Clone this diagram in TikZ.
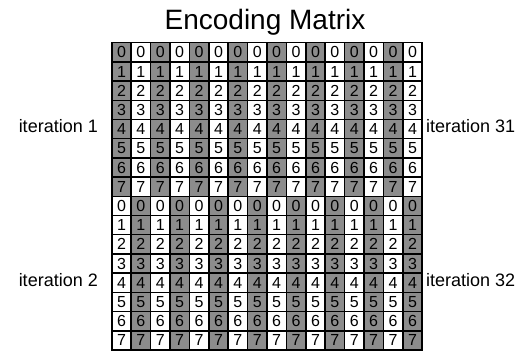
\documentclass[tikz,border=0pt]{standalone}
\usepackage{fontspec}
\setmainfont{Liberation Sans}
\usetikzlibrary{positioning}
\definecolor{cellgray}{RGB}{140,140,140}

\begin{document}
\begin{tikzpicture}[x=1pt,y=-1pt]\tikzstyle{every node}=[font=\fontsize{16}{18}\selectfont]
\tikzstyle{cell}=[draw, line width=1.5pt, minimum width=19.4pt, minimum height=19.2pt, inner sep=0pt, anchor=north west]
\tikzstyle{label}=[font=\fontsize{18}{20}\selectfont, inner sep=0pt]
\useasboundingbox (0,0) rectangle (532,352);
% title
\node[font=\fontsize{28}{30}\selectfont, anchor=base] (title) at (265,30) {Encoding Matrix};
% cells: top half shaded on even columns, bottom half on odd ones
\foreach \r in {0,...,15}{
  \foreach \c in {0,...,15}{
    \pgfmathtruncatemacro{\digit}{mod(\r,8)}
    \pgfmathtruncatemacro{\shade}{mod(\c+(\r>7),2)}
    \ifnum\shade=0 \def\cellfill{cellgray}\else\def\cellfill{white}\fi
    \node[cell, fill=\cellfill] (c-\r-\c) at (111+19.4*\c, 42+19.2*\r) {\digit};
  }
}
%%%%%%%%%%%%%%%%
\node[label, anchor=base east] (iter1) at ([xshift=-13pt, yshift=7pt]c-4-0.south west) {iteration 1};
\node[label, anchor=base east] (iter2) at ([xshift=-13pt, yshift=7pt]c-12-0.south west) {iteration 2};
\node[label, anchor=base west] (iter31) at ([xshift=3pt, yshift=7pt]c-4-15.south east) {iteration 31};
\node[label, anchor=base west] (iter32) at ([xshift=3pt, yshift=7pt]c-12-15.south east) {iteration 32};
\end{tikzpicture}
\end{document}
